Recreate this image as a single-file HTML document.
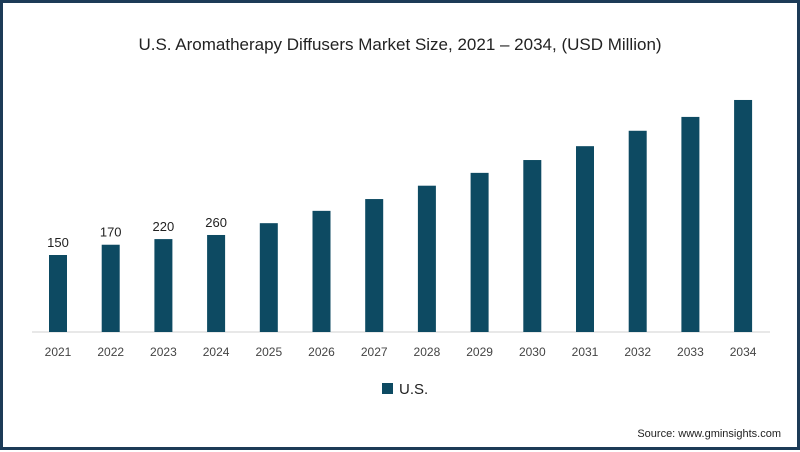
<!DOCTYPE html>
<html><head><meta charset="utf-8"><style>
body{margin:0;background:#fff;}
#wrap{position:relative;width:794px;height:444px;border:3px solid #1c3b57;background:#fff;font-family:"Liberation Sans",sans-serif;}
</style></head><body>
<div id="wrap">
<svg id="chart" width="794" height="444">
<text x="397" y="47" text-anchor="middle" font-size="17" fill="#222">U.S. Aromatherapy Diffusers Market Size, 2021 – 2034, (USD Million)</text>
<line x1="29" y1="329" x2="767" y2="329" stroke="#d0d0d0" stroke-width="1"/>
<g id="bars"></g>
<rect x="379" y="380" width="11" height="11" fill="#0d4a62"/>
<text x="396" y="391" font-size="15" fill="#222">U.S.</text>
<text x="778" y="434" text-anchor="end" font-size="11" fill="#222">Source: www.gminsights.com</text>
</svg>
</div>
<script>
const categories=["2021","2022","2023","2024","2025","2026","2027","2028","2029","2030","2031","2032","2033","2034"];
const values=[150,170,181,189,212,236,259,285,310,335,362,392,419,452];
const valueLabels=["150","170","220","260","","","","","","","","","",""];
const ns="http://www.w3.org/2000/svg";
const g=document.getElementById("bars");
const base=329, pxPer=77/150, x0=55, step=52.7, bw=18;
function xPos(i){return x0+i*step;}
function yPos(v){return base-v*pxPer;}
categories.forEach((c,i)=>{
 const r=document.createElementNS(ns,"rect");
 r.setAttribute("x",xPos(i)-bw/2);r.setAttribute("y",yPos(values[i]));
 r.setAttribute("width",bw);r.setAttribute("height",base-yPos(values[i]));
 r.setAttribute("fill","#0d4a62");
 
 
 g.appendChild(r);
 const t=document.createElementNS(ns,"text");
 t.setAttribute("x",xPos(i));t.setAttribute("y",353);t.setAttribute("text-anchor","middle");
 t.setAttribute("font-size","12");t.setAttribute("fill","#444");t.textContent=c;
 
 
 g.appendChild(t);
 if(valueLabels[i]){
  const l=document.createElementNS(ns,"text");
  l.setAttribute("x",xPos(i));l.setAttribute("y",yPos(values[i])-8);l.setAttribute("text-anchor","middle");
  l.setAttribute("font-size","13");l.setAttribute("fill","#222");l.textContent=valueLabels[i];
  
  
  g.appendChild(l);
 }
});
</script>
</body></html>
